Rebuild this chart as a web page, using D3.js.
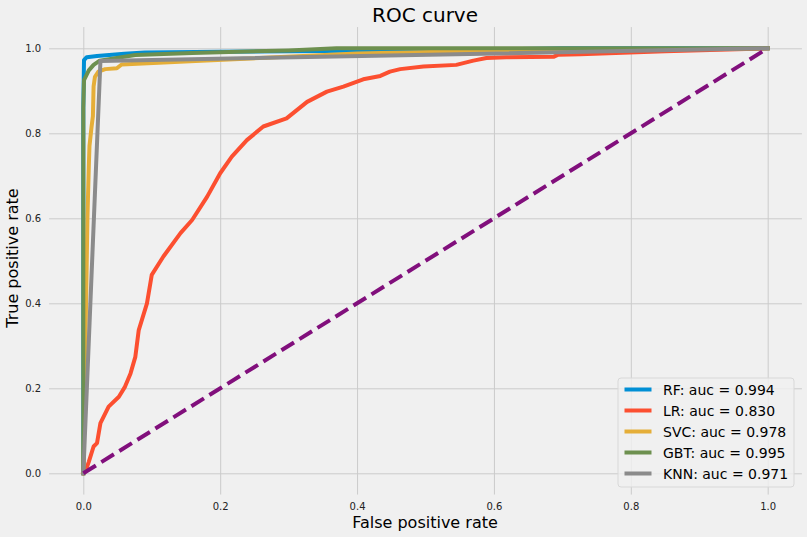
<!DOCTYPE html>
<html>
<head>
<meta charset="utf-8">
<script src="https://cdn.jsdelivr.net/npm/d3@7"></script>
<style>
  body { margin: 0; background: #f0f0f0; }
  text { font-family: "DejaVu Sans", sans-serif; }
</style>
</head>
<body>
<svg id="chart"></svg>
<script>
const width = 807;
const height = 537;

// ROC points: [false positive rate, true positive rate]
const rfPoints = [[0,0],[0,0.86],[0.001,0.972],[0.005,0.979],[0.02,0.982],[0.06,0.987],[0.09,0.99],
  [0.2,0.992],[0.4,0.994],[0.55,0.996],[0.7,1],[1,1]];
const lrPoints = [[0,0],[0.003,0.004],[0.008,0.027],[0.015,0.063],[0.02,0.071],[0.025,0.118],[0.037,0.157],
  [0.052,0.18],[0.061,0.204],[0.069,0.235],[0.076,0.274],[0.081,0.337],[0.093,0.4],[0.1,0.467],
  [0.117,0.51],[0.142,0.565],[0.159,0.596],[0.181,0.651],[0.2,0.706],[0.217,0.745],[0.239,0.784],
  [0.263,0.816],[0.297,0.835],[0.327,0.874],[0.356,0.898],[0.38,0.91],[0.409,0.927],[0.434,0.935],
  [0.448,0.945],[0.463,0.951],[0.497,0.957],[0.545,0.961],[0.57,0.971],[0.589,0.977],[0.618,0.979],
  [0.687,0.98],[0.694,0.985],[0.726,0.986],[0.85,0.993],[1,1]];
const svcPoints = [[0,0],[0.002,0.2],[0.004,0.4],[0.006,0.6],[0.008,0.72],[0.009,0.77],[0.012,0.815],
  [0.014,0.84],[0.015,0.91],[0.017,0.933],[0.022,0.945],[0.032,0.951],[0.049,0.953],[0.056,0.962],
  [0.11,0.966],[0.164,0.97],[0.4,0.988],[0.56,0.993],[0.75,0.996],[1,1]];
const gbtPoints = [[0,0],[0,0.86],[0.001,0.925],[0.008,0.948],[0.015,0.961],[0.024,0.971],[0.076,0.984],
  [0.159,0.989],[0.3,0.995],[0.37,1],[1,1]];
const knnPoints = [[0,0],[0.025,0.97],[1,1]];
const chancePoints = [[0,0],[1,1]];

const seriesNames = ['RF', 'LR', 'SVC', 'GBT', 'KNN'];
const seriesAuc = [0.994, 0.830, 0.978, 0.995, 0.971];
const seriesPoints = [rfPoints, lrPoints, svcPoints, gbtPoints, knnPoints];
const seriesColors = ['#008fd5', '#fc4f30', '#e5ae38', '#6d904f', '#8b8b8b'];

const tickValues = [0, 0.2, 0.4, 0.6, 0.8, 1.0];

const svg = d3.select('#chart')
  .attr('width', width)
  .attr('height', height);

svg.append('rect')
  .attr('width', width)
  .attr('height', height)
  .attr('fill', '#f0f0f0');

const xScale = d3.scaleLinear()
  .domain([-0.05, 1.05])
  .range([49.1, 801.9]);

const yScale = d3.scaleLinear()
  .domain([-0.05, 1.05])
  .range([494.55, 27.05]);

// grid + tick labels
const xAxis = d3.axisBottom(xScale)
  .tickValues(tickValues)
  .tickFormat(d3.format('.1f'))
  .tickSize(-(494.55 - 27.05))
  .tickPadding(8.3);

const yAxis = d3.axisLeft(yScale)
  .tickValues(tickValues)
  .tickFormat(d3.format('.1f'))
  .tickSize(-(801.9 - 49.1))
  .tickPadding(8);

function styleAxis(g) {
  g.select('.domain').remove();
  g.selectAll('.tick line').attr('stroke', '#cbcbcb').attr('stroke-width', 1);
  g.selectAll('.tick text')
    .attr('fill', '#222')
    .style('font-size', '10px')
    .style('font-family', '"DejaVu Sans", sans-serif');
}

svg.append('g')
  .attr('transform', `translate(0, ${yScale(-0.05)})`)
  .call(xAxis)
  .call(styleAxis);

svg.append('g')
  .attr('transform', `translate(${xScale(-0.05)}, 0)`)
  .call(yAxis)
  .call(styleAxis);

const line = d3.line()
  .x(d => xScale(d[0]))
  .y(d => yScale(d[1]));

seriesPoints.forEach((pts, i) => {
  svg.append('path')
    .datum(pts)
    .attr('d', line)
    .attr('fill', 'none')
    .attr('stroke', seriesColors[i])
    .attr('stroke-width', 4)
    .attr('stroke-linejoin', 'round')
    .attr('stroke-linecap', 'square');
});

svg.append('path')
  .datum(chancePoints)
  .attr('d', line)
  .attr('fill', 'none')
  .attr('stroke', '#810f7c')
  .attr('stroke-width', 4)
  .attr('stroke-dasharray', '14.8,6.4');

// title and axis labels
svg.append('text')
  .attr('x', 425)
  .attr('y', 22)
  .attr('text-anchor', 'middle')
  .style('font-size', '20px')
  .text('ROC curve');

svg.append('text')
  .attr('x', 425)
  .attr('y', 528)
  .attr('text-anchor', 'middle')
  .style('font-size', '16px')
  .text('False positive rate');

svg.append('text')
  .attr('transform', 'translate(18, 258) rotate(-90)')
  .attr('text-anchor', 'middle')
  .style('font-size', '16px')
  .text('True positive rate');

// legend
const legend = svg.append('g');

legend.append('rect')
  .attr('x', 618)
  .attr('y', 378)
  .attr('width', 176)
  .attr('height', 109)
  .attr('rx', 3)
  .attr('fill', '#f0f0f0')
  .attr('fill-opacity', 0.8)
  .attr('stroke', '#d8d8d8')
  .attr('stroke-width', 1);

seriesNames.forEach((name, i) => {
  const cy = 389.5 + i * 21;
  legend.append('line')
    .attr('x1', 624.5)
    .attr('x2', 651.5)
    .attr('y1', cy)
    .attr('y2', cy)
    .attr('stroke', seriesColors[i])
    .attr('stroke-width', 4);
  legend.append('text')
    .attr('x', 663)
    .attr('y', cy + 5)
    .style('font-size', '14px')
    .text(`${name}: auc = ${seriesAuc[i].toFixed(3)}`);
});
</script>
</body>
</html>
